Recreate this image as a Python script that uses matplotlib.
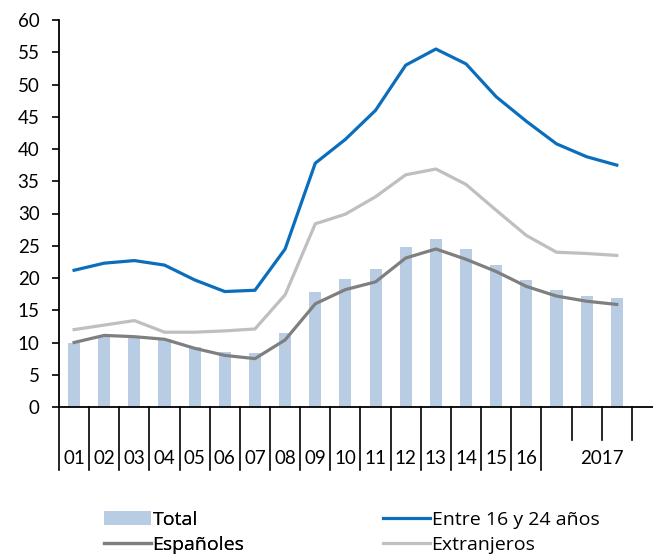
import matplotlib
matplotlib.use("Agg")
import matplotlib.pyplot as plt
import matplotlib.transforms as mtransforms
import numpy as np

plt.rcParams["font.family"] = ["Lato", "DejaVu Sans"]

# periods: 2001..2016 annual, then 2017 Q1..Q3
periods = ["01", "02", "03", "04", "05", "06", "07", "08", "09", "10",
           "11", "12", "13", "14", "15", "16", "17T1", "17T2", "17T3"]
total = [10.0, 11.0, 10.9, 10.6, 9.3, 8.6, 8.3, 11.4, 17.9, 19.9,
         21.4, 24.8, 26.0, 24.5, 22.0, 19.7, 18.1, 17.2, 16.9]
jovenes = [21.2, 22.3, 22.7, 22.0, 19.7, 17.9, 18.1, 24.5, 37.8, 41.5,
           46.0, 53.0, 55.5, 53.2, 48.1, 44.3, 40.8, 38.8, 37.5]
espanoles = [10.0, 11.1, 10.9, 10.5, 9.1, 8.0, 7.5, 10.4, 16.0, 18.2,
             19.4, 23.1, 24.5, 22.9, 21.0, 18.7, 17.2, 16.4, 15.9]
extranjeros = [12.0, 12.7, 13.4, 11.6, 11.6, 11.8, 12.1, 17.4, 28.4, 29.9,
               32.6, 36.0, 36.9, 34.5, 30.5, 26.6, 24.0, 23.8, 23.5]
year_labels = ["01", "02", "03", "04", "05", "06", "07", "08", "09", "10",
               "11", "12", "13", "14", "15", "16", "2017"]

W, H = 653, 557
fig = plt.figure(figsize=(W / 100, H / 100), dpi=100)
ax = fig.add_axes([59 / W, (H - 407) / H, (W - 59) / W, 387 / H])

x = np.arange(len(periods))
b1 = ax.bar(x, total, width=0.4, color="#B8CCE4", label="Total", zorder=1)
l2, = ax.plot(x, jovenes, color="#0A6EBD", lw=2.3, label="Entre 16 y 24 años", zorder=3)
l3, = ax.plot(x, espanoles, color="#7F7F7F", lw=2.3, label="Españoles", zorder=3)
l4, = ax.plot(x, extranjeros, color="#BFBFBF", lw=2.3, label="Extranjeros", zorder=2)

ax.set_ylim(0, 60)
ax.set_yticks(np.arange(0, 61, 5))
ax.set_xlim(-0.5, -0.5 + (W - 59) / 30.15)
ax.tick_params(axis="y", labelsize=13.5, length=5, width=1.2, pad=9, color="black")
ax.set_xticks([])
for s in ["top", "right"]:
    ax.spines[s].set_visible(False)
for s in ["left", "bottom"]:
    ax.spines[s].set_linewidth(1.3)

# category separators below the axis
tr = mtransforms.blended_transform_factory(ax.transData, ax.transAxes)
long_b = [i - 0.5 for i in range(17)] + [19.5]
short_b = [16.5, 17.5, 18.5]
for b in long_b:
    ax.plot([b, b], [0, -0.163], color="black", lw=1.2, transform=tr, clip_on=False)
for b in short_b:
    ax.plot([b, b], [0, -0.085], color="black", lw=1.2, transform=tr, clip_on=False)
label_pos = list(range(16)) + [17.5]
for p, t in zip(label_pos, year_labels):
    ax.text(p, -0.132, t, transform=tr, ha="center", va="center", fontsize=13.5)

legprops = {"family": ["Open Sans", "DejaVu Sans"], "size": 14}
leg1 = fig.legend([b1, l3], ["Total", "Españoles"], loc="upper left",
                  bbox_to_anchor=(104 / W, 1 - 511 / H), frameon=False,
                  handlelength=2.4, handletextpad=0.1, borderpad=0, borderaxespad=0,
                  labelspacing=0.35, prop=legprops)
fig.add_artist(leg1)
fig.legend([l2, l4], ["Entre 16 y 24 años", "Extranjeros"], loc="upper left",
           bbox_to_anchor=(383 / W, 1 - 511 / H), frameon=False,
           handlelength=2.4, handletextpad=0.1, borderpad=0, borderaxespad=0,
           labelspacing=0.35, prop=legprops)

fig.savefig("out.png", dpi=100, facecolor="white")
